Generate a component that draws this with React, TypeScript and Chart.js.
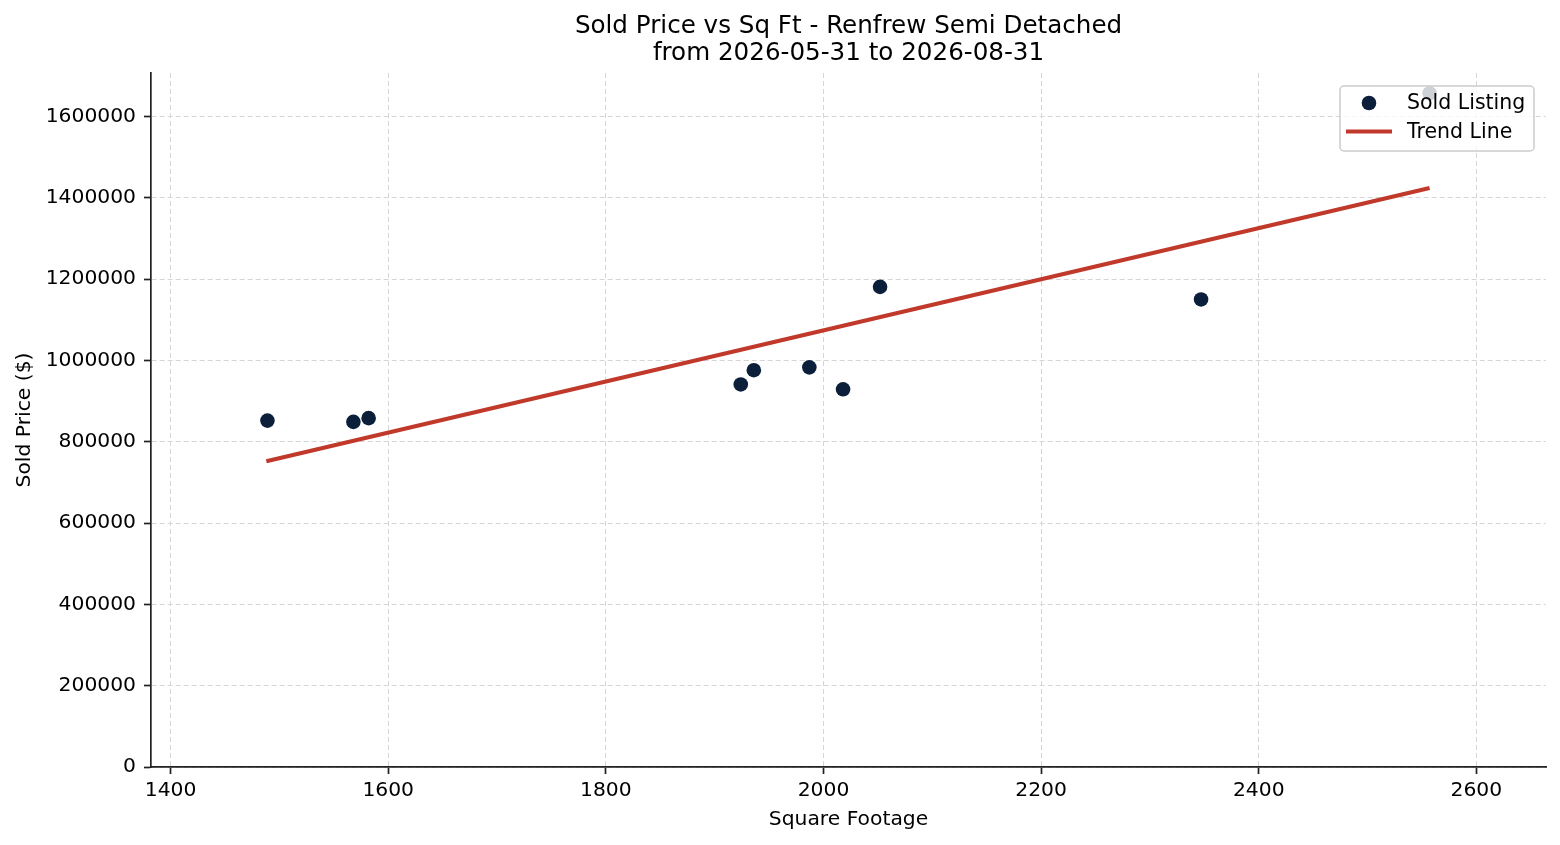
import { useEffect, useRef } from "react";
import { Chart, registerables, ChartConfiguration, Plugin } from "chart.js";

Chart.register(...registerables);

// Sold listings
const SQFT = [1489, 1568, 1582, 1924, 1936, 1987, 2018, 2052, 2347, 2557];
const PRICE = [852000, 849000, 858000, 941000, 976000, 983000, 929000, 1181000, 1150000, 1657000];

// Trend line end points
const TREND_X = [1488, 2557];
const TREND_Y = [752000, 1424000];

const X_TICKS = [1400, 1600, 1800, 2000, 2200, 2400, 2600];
const Y_TICKS = [0, 200000, 400000, 600000, 800000, 1000000, 1200000, 1400000, 1600000];
const X_RANGE = [1382, 2664];
const Y_RANGE = [0, 1707000];

const TITLE_LINES = ["Sold Price vs Sq Ft - Renfrew Semi Detached", "from 2026-05-31 to 2026-08-31"];
const LEGEND_LABELS = ["Sold Listing", "Trend Line"];

const FONT = "'DejaVu Sans', sans-serif";
const NAVY = "#0b1f3b";
const RED = "#c0392b";
const AXIS = "#222222";

const overlayPlugin: Plugin<"scatter"> = {
  id: "overlay",
  afterDraw(chart) {
    const ctx = chart.ctx;
    const area = chart.chartArea;
    ctx.save();

    // title
    ctx.fillStyle = "#000";
    ctx.font = `24.6px ${FONT}`;
    ctx.textAlign = "center";
    ctx.textBaseline = "alphabetic";
    const cx = (area.left + area.right) / 2;
    ctx.fillText(TITLE_LINES[0], cx, 33);
    ctx.fillText(TITLE_LINES[1], cx, 60);

    // legend box
    const bx = 1340, by = 86, bw = 194, bh = 65, r = 4;
    ctx.beginPath();
    ctx.roundRect(bx, by, bw, bh, r);
    ctx.fillStyle = "rgba(255,255,255,0.8)";
    ctx.fill();
    ctx.strokeStyle = "#cccccc";
    ctx.lineWidth = 1.5;
    ctx.stroke();

    ctx.fillStyle = NAVY;
    ctx.beginPath();
    ctx.arc(1369, 103, 7.3, 0, Math.PI * 2);
    ctx.fill();

    ctx.strokeStyle = RED;
    ctx.lineWidth = 4;
    ctx.beginPath();
    ctx.moveTo(1346, 131.5);
    ctx.lineTo(1392, 131.5);
    ctx.stroke();

    ctx.fillStyle = "#000";
    ctx.font = `20.5px ${FONT}`;
    ctx.textAlign = "left";
    ctx.fillText(LEGEND_LABELS[0], 1407, 109);
    ctx.fillText(LEGEND_LABELS[1], 1407, 138);

    ctx.restore();
  },
};

export default function App() {
  const canvasRef = useRef<HTMLCanvasElement>(null);
  const chartRef = useRef<Chart | null>(null);

  useEffect(() => {
    if (!canvasRef.current) return;
    if (chartRef.current) chartRef.current.destroy();

    const tickFont = { family: FONT, size: 20.3 };

    const config: ChartConfiguration<"scatter"> = {
      type: "scatter",
      data: {
        datasets: [
          {
            label: LEGEND_LABELS[1],
            data: TREND_X.map((x, i) => ({ x, y: TREND_Y[i] })),
            showLine: true,
            borderColor: RED,
            borderWidth: 4,
            pointRadius: 0,
            order: 0,
          },
          {
            label: LEGEND_LABELS[0],
            data: SQFT.map((x, i) => ({ x, y: PRICE[i] })),
            backgroundColor: NAVY,
            pointRadius: 7.3,
            pointBorderWidth: 0,
            order: 1,
          },
        ],
      },
      options: {
        responsive: false,
        animation: false,
        layout: { padding: { top: 73, right: 14, left: 0, bottom: 0 } },
        plugins: {
          legend: { display: false },
          title: { display: false },
          tooltip: { enabled: false },
        },
        scales: {
          x: {
            type: "linear",
            min: X_RANGE[0],
            max: X_RANGE[1],
            afterBuildTicks: (scale) => {
              scale.ticks = X_TICKS.map((value) => ({ value }));
            },
            afterFit: (scale) => {
              scale.height = 78;
            },
            grid: {
              color: "#d6d6d6",
              lineWidth: 1,
              tickLength: 7,
              tickWidth: 1.7,
              tickColor: AXIS,
              tickBorderDash: [],
            },
            border: { display: true, color: AXIS, width: 1.7, dash: [5, 3] },
            ticks: {
              color: "#000",
              font: tickFont,
              padding: 5,
              maxRotation: 0,
              autoSkip: false,
              callback: (v) => String(v),
            },
            title: {
              display: true,
              text: "Square Footage",
              color: "#000",
              font: tickFont,
              padding: { top: 0, bottom: 13 },
            },
          },
          y: {
            type: "linear",
            min: Y_RANGE[0],
            max: Y_RANGE[1],
            afterBuildTicks: (scale) => {
              scale.ticks = Y_TICKS.map((value) => ({ value }));
            },
            afterFit: (scale) => {
              scale.width = 151;
            },
            grid: {
              color: "#d6d6d6",
              lineWidth: 1,
              tickLength: 7,
              tickWidth: 1.7,
              tickColor: AXIS,
              tickBorderDash: [],
            },
            border: { display: true, color: AXIS, width: 1.7, dash: [5, 3] },
            ticks: {
              color: "#000",
              font: tickFont,
              padding: 8,
              autoSkip: false,
              callback: (v) => String(v),
            },
            title: {
              display: true,
              text: "Sold Price ($)",
              color: "#000",
              font: tickFont,
              padding: { top: 13, bottom: 0 },
            },
          },
        },
      },
      plugins: [overlayPlugin],
    };

    chartRef.current = new Chart(canvasRef.current, config);

    return () => {
      if (chartRef.current) {
        chartRef.current.destroy();
        chartRef.current = null;
      }
    };
  }, []);

  return (
    <div style={{ position: "absolute", left: 0, top: 0, width: 1560, height: 845, background: "#fff" }}>
      <canvas ref={canvasRef} width={1560} height={845} style={{ display: "block" }} />
    </div>
  );
}
